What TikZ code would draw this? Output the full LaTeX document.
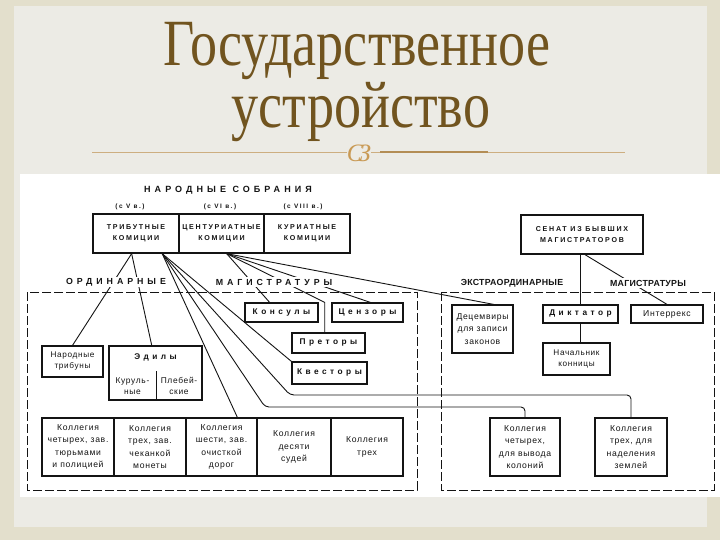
\documentclass[tikz,border=0pt]{standalone}
\usepackage{fontspec}
\setmainfont{Liberation Serif}
\newfontfamily\boxf[LetterSpace=8]{Liberation Sans}
\newfontfamily\widef[LetterSpace=42]{Liberation Sans}
\newfontfamily\hdrf[LetterSpace=45]{Liberation Sans}
\newfontfamily\topf[LetterSpace=24]{Liberation Sans}
\newfontfamily\plainf[LetterSpace=3]{Liberation Sans}
\usetikzlibrary{calc}
\definecolor{bgout}{HTML}{E3DFCC}
\definecolor{bgin}{HTML}{ECEBE5}
\definecolor{titlec}{HTML}{71541F}
\definecolor{rulec}{HTML}{CDAE80}
\definecolor{ruled}{HTML}{B38D55}
\definecolor{ornc}{HTML}{C99A55}
\definecolor{ink}{HTML}{141414}
\pgfdeclarelayer{bg}
\pgfdeclarelayer{lines}
\pgfsetlayers{bg,lines,main}
\tikzset{
  box/.style={draw=ink, line width=1.2pt, fill=white, align=center, inner sep=0pt,
    font=\boxf\fontsize{8.6}{12.5}\selectfont, text=ink},
  widebox/.style={box, font=\widef\bfseries\fontsize{8.3}{9}\selectfont},
  topcell/.style={draw=ink, line width=1.3pt, fill=white, align=center, inner sep=0pt,
    minimum height=39pt, font=\topf\bfseries\fontsize{7.1}{11}\selectfont, text=ink},
  hdr/.style={font=\hdrf\bfseries\fontsize{9}{10}\selectfont, text=ink, inner sep=1pt},
  seclab/.style={font=\hdrf\bfseries\fontsize{8.8}{10}\selectfont, text=ink, fill=white, inner sep=1.5pt},
  seclabn/.style={font=\plainf\bfseries\fontsize{8.8}{10}\selectfont, text=ink, fill=white, inner sep=1.5pt},
  era/.style={font=\topf\bfseries\fontsize{6.4}{7}\selectfont, text=ink, inner sep=0pt},
  inner/.style={font=\boxf\fontsize{8.4}{10.5}\selectfont, text=ink, align=center, inner sep=0pt},
  conn/.style={draw=ink, line width=0.9pt},
  dashbox/.style={draw=ink, line width=0.8pt, dash pattern=on 9pt off 3pt}
}
\begin{document}
\begin{tikzpicture}[x=1pt,y=-1pt]
\useasboundingbox (0,0) rectangle (720,540);
\begin{pgfonlayer}{bg}
\fill[bgout] (0,0) rectangle (720,540);
\fill[bgin] (14,6) rectangle (707,527);
\fill[white] (20,174) rectangle (720,497);
\end{pgfonlayer}

% title
\node[text=titlec, font=\fontsize{66}{66}\selectfont, anchor=base, inner sep=0pt] (t1) at (357,66) {\scalebox{0.82}[1]{Государственное}};
\node[text=titlec, font=\fontsize{66}{66}\selectfont, anchor=base, inner sep=0pt] (t2) at (361,128) {\scalebox{0.82}[1]{устройство}};
\coordinate (rl) at (92,152);
\coordinate (rr) at (625,152);
\coordinate (rd1) at (380,152);
\coordinate (rd2) at (488,152);
\draw[rulec, line width=0.8pt] (rl) -- (rr);
\draw[ruled, line width=1.1pt] (rd1) -- (rd2);
\node[text=ornc, font=\itshape\fontsize{25}{25}\selectfont, inner sep=0pt, fill=bgin] (orn) at (359,153) {C\kern-5pt З};

% top block
\node[hdr] (nsob) at (228,190) {НАРОДНЫЕ СОБРАНИЯ};
\node[era] (e1) at (130,207) {(с V в.)};
\node[era] (e2) at (220,207) {(с VI в.)};
\node[era] (e3) at (303,207) {(с VIII в.)};
\node[topcell, minimum width=86pt] (trib) at (136,233.5) {ТРИБУТНЫЕ\\КОМИЦИИ};
\node[topcell, minimum width=85pt] (cent) at (221.5,233.5) {ЦЕНТУРИАТНЫЕ\\КОМИЦИИ};
\node[topcell, minimum width=86pt] (kur) at (307,233.5) {КУРИАТНЫЕ\\КОМИЦИИ};
\node[topcell, minimum width=122pt] (sen) at (582,234.5) {СЕНАТ ИЗ БЫВШИХ\\МАГИСТРАТОРОВ};

% section frames
\begin{pgfonlayer}{lines}
\draw[dashbox] (27,292) rectangle (417,490);
\draw[dashbox] (441,292) rectangle (714,490);
\end{pgfonlayer}
\node[seclab] (ord) at (116,282) {ОРДИНАРНЫЕ};
\node[seclab] (mag1) at (274,282) {МАГИСТРАТУРЫ};
\node[seclabn] (ext) at (512,283) {ЭКСТРАОРДИНАРНЫЕ};
\node[seclabn] (mag2) at (648,283) {МАГИСТРАТУРЫ};

% ordinary magistrates
\node[widebox, minimum width=73pt, minimum height=19pt] (kons) at (281.5,312.5) {Консулы};
\node[widebox, minimum width=71pt, minimum height=19pt] (cenz) at (367.5,312.5) {Цензоры};
\node[widebox, minimum width=73pt, minimum height=20pt] (pret) at (328.5,343) {Преторы};
\node[widebox, minimum width=75pt, minimum height=22pt] (kvest) at (329.5,373) {Квесторы};
\node[box, minimum width=61pt, minimum height=31pt, font=\boxf\fontsize{8.2}{11}\selectfont] (trbn) at (72.5,361.5) {Народные\\трибуны};
\node[box, minimum width=93pt, minimum height=54pt] (edil) at (155.5,373) {};
\node[inner, font=\widef\bfseries\fontsize{8.3}{9}\selectfont] (edilt) at (155.5,357) {Эдилы};
\node[inner] (kurul) at (132.5,386) {Куруль-\\ные};
\node[inner] (pleb) at (179,386) {Плебей-\\ские};
\coordinate (dv1) at (156,371);
\draw[ink, line width=1pt] (dv1) -- (dv1 |- edil.south);

\node[box, minimum width=72pt, minimum height=58pt] (k1) at (78,447) {Коллегия\\четырех, зав.\\тюрьмами\\и полицией};
\node[box, minimum width=72pt, minimum height=58pt] (k2) at (150,447) {Коллегия\\трех, зав.\\чеканкой\\монеты};
\node[box, minimum width=71pt, minimum height=58pt] (k3) at (221.5,447) {Коллегия\\шести, зав.\\очисткой\\дорог};
\node[box, minimum width=74pt, minimum height=58pt] (k4) at (294,447) {Коллегия\\десяти\\судей};
\node[box, minimum width=72pt, minimum height=58pt] (k5) at (367,447) {Коллегия\\трех};

% extraordinary magistrates
\node[box, minimum width=61pt, minimum height=48pt] (dec) at (482.5,329) {Децемвиры\\для записи\\законов};
\node[widebox, minimum width=75pt, minimum height=18pt] (dikt) at (580.5,314) {Диктатор};
\node[box, minimum width=72pt, minimum height=18pt] (inter) at (667,314) {Интеррекс};
\node[box, minimum width=67pt, minimum height=32pt, font=\boxf\fontsize{8.2}{11}\selectfont] (nach) at (576.5,359) {Начальник\\конницы};
\node[box, minimum width=70pt, minimum height=58pt] (kolon) at (525,447) {Коллегия\\четырех,\\для вывода\\колоний};
\node[box, minimum width=72pt, minimum height=58pt] (zeml) at (631,447) {Коллегия\\трех, для\\наделения\\землей};

% connectors
\coordinate (tA) at ($(trib.south west)!0.45!(trib.south east)$);
\coordinate (tB) at ($(trib.south west)!0.8!(trib.south east)$);
\coordinate (cA) at ($(cent.south west)!0.56!(cent.south east)$);
\coordinate (bendA) at (265,407);
\coordinate (bendB) at (290,395);
\coordinate (pTop) at ($(pret.north west)!0.45!(pret.north east)$);
\begin{pgfonlayer}{lines}
\draw[conn] (tA) -- (trbn.north);
\draw[conn] (tA) -- ($(edil.north west)!0.46!(edil.north east)$);
\draw[conn] (tB) -- (kvest.north west);
\draw[conn, rounded corners=4pt] (tB) -- (bendB) -- (bendB -| zeml.north) -- (zeml.north);
\draw[conn, rounded corners=4pt] (tB) -- (bendA) -- (bendA -| kolon.north) -- (kolon.north);
\draw[conn] (tB) -- ($(k3.north west)!0.72!(k3.north east)$);
\draw[conn] (cA) -- ($(kons.north west)!0.34!(kons.north east)$);
\draw[conn] (cA) -- (pTop |- kons.north) -- (pTop);
\draw[conn] (cA) -- ($(cenz.north west)!0.54!(cenz.north east)$);
\draw[conn] (cA) -- ($(dec.north west)!0.68!(dec.north east)$);
\draw[conn] (dikt.north |- sen.south) -- (dikt.north);
\draw[conn] ($(sen.south)+(3,0)$) -- (inter.north);
\draw[conn] (dikt.south) -- (dikt.south |- nach.north);
\end{pgfonlayer}
\end{tikzpicture}
\end{document}
